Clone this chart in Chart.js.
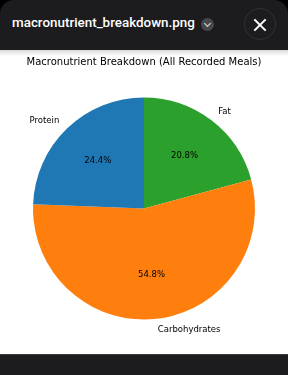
<!DOCTYPE html>
<html>
<head>
<meta charset="utf-8">
<script src="https://cdn.jsdelivr.net/npm/chart.js@4"></script>
<style>
  html, body { margin: 0; padding: 0; background: #000; }
  body { width: 288px; height: 375px; position: relative; overflow: hidden; font-family: Roboto, 'Noto Sans', sans-serif; }
  .topbar { position: absolute; left: 0; top: 0; width: 288px; height: 50px; background: #1c1c1e; border-radius: 14px 14px 0 0; }
  .fname { position: absolute; left: 12px; top: 15px; color: #fff; font-size: 13.4px; font-weight: 500; white-space: nowrap; }
  .chev { position: absolute; left: 201px; top: 18px; width: 13px; height: 13px; border-radius: 50%; background: #48484c; }
  .chev:after { content: ''; position: absolute; left: 4px; top: 3px; width: 4px; height: 4px; border-right: 1.3px solid #ddd; border-bottom: 1.3px solid #ddd; transform: rotate(45deg); }
  .close { position: absolute; left: 244px; top: 8px; width: 32px; height: 32px; border-radius: 50%; background: #1c1c1e; border: 1px solid #333336; box-sizing: border-box; }
  .close:before, .close:after { content: ''; position: absolute; left: 7px; top: 14.5px; width: 16px; height: 2px; background: #fff; transform: rotate(45deg); }
  .close:after { transform: rotate(-45deg); }
  .sheet { position: absolute; left: 0; top: 50px; width: 288px; height: 304px; background: #fff; }
  .sheet:before { content: ''; position: absolute; left: 0; top: 0; width: 288px; height: 6px; background: linear-gradient(#d8d8d8, #fff); }
  .bottombar { position: absolute; left: 0; top: 354px; width: 288px; height: 21px; background: #1c1c1e; border-top: 1px solid #3a3a3c; }
  #chartBox { position: absolute; left: 0; top: 50px; width: 288px; height: 304px; }
</style>
</head>
<body>
<div class="topbar">
  <div class="fname">macronutrient_breakdown.png</div>
  <div class="chev"></div>
  <div class="close"></div>
</div>
<div class="sheet"></div>
<div id="chartBox"><canvas id="pieChart"></canvas></div>
<div class="bottombar"></div>

<script>
// Data (matplotlib order: Protein, Carbohydrates, Fat — counter-clockwise from top)
const macroLabels = ['Protein', 'Carbohydrates', 'Fat'];
const macroShares = [24.4, 54.8, 20.8];
const macroColors = ['#1f77b4', '#ff7f0e', '#2ca02c'];
const chartTitle = 'Macronutrient Breakdown (All Recorded Meals)';

// Chart.js draws clockwise, so reverse to get the same layout
const labels = macroLabels.slice().reverse();
const values = macroShares.slice().reverse();
const colors = macroColors.slice().reverse();

const FONT = "'DejaVu Sans', sans-serif";

// Outside labels + percentages, placed like matplotlib (1.1r and 0.6r)
const pieLabels = {
    id: 'pieLabels',
    afterDatasetsDraw(chart) {
        const c = chart.ctx;
        const arcs = chart.getDatasetMeta(0).data;
        c.save();
        c.fillStyle = '#000';
        c.textBaseline = 'middle';
        arcs.forEach((arc, i) => {
            const mid = (arc.startAngle + arc.endAngle) / 2;
            const r = arc.outerRadius;
            const cos = Math.cos(mid), sin = Math.sin(mid);
            c.font = '8.5px ' + FONT;
            c.textAlign = cos >= 0 ? 'left' : 'right';
            c.fillText(labels[i], arc.x + 1.1 * r * cos, arc.y + 1.1 * r * sin);
            c.textAlign = 'center';
            c.fillText(values[i].toFixed(1) + '%', arc.x + 0.6 * r * cos, arc.y + 0.6 * r * sin);
        });
        // title
        c.font = '10px ' + FONT;
        c.textAlign = 'center';
        c.fillText(chartTitle, 144, 12);
        c.restore();
    }
};

new Chart(document.getElementById('pieChart'), {
    type: 'pie',
    data: {
        labels: labels,
        datasets: [{
            data: values,
            backgroundColor: colors,
            borderWidth: 0,
            hoverOffset: 0
        }]
    },
    options: {
        responsive: true,
        maintainAspectRatio: false,
        animation: false,
        rotation: 0,
        layout: { padding: { left: 33, right: 33, top: 47, bottom: 34 } },
        plugins: {
            legend: { display: false },
            tooltip: { enabled: false },
            title: { display: false }
        }
    },
    plugins: [pieLabels]
});
</script>
</body>
</html>
